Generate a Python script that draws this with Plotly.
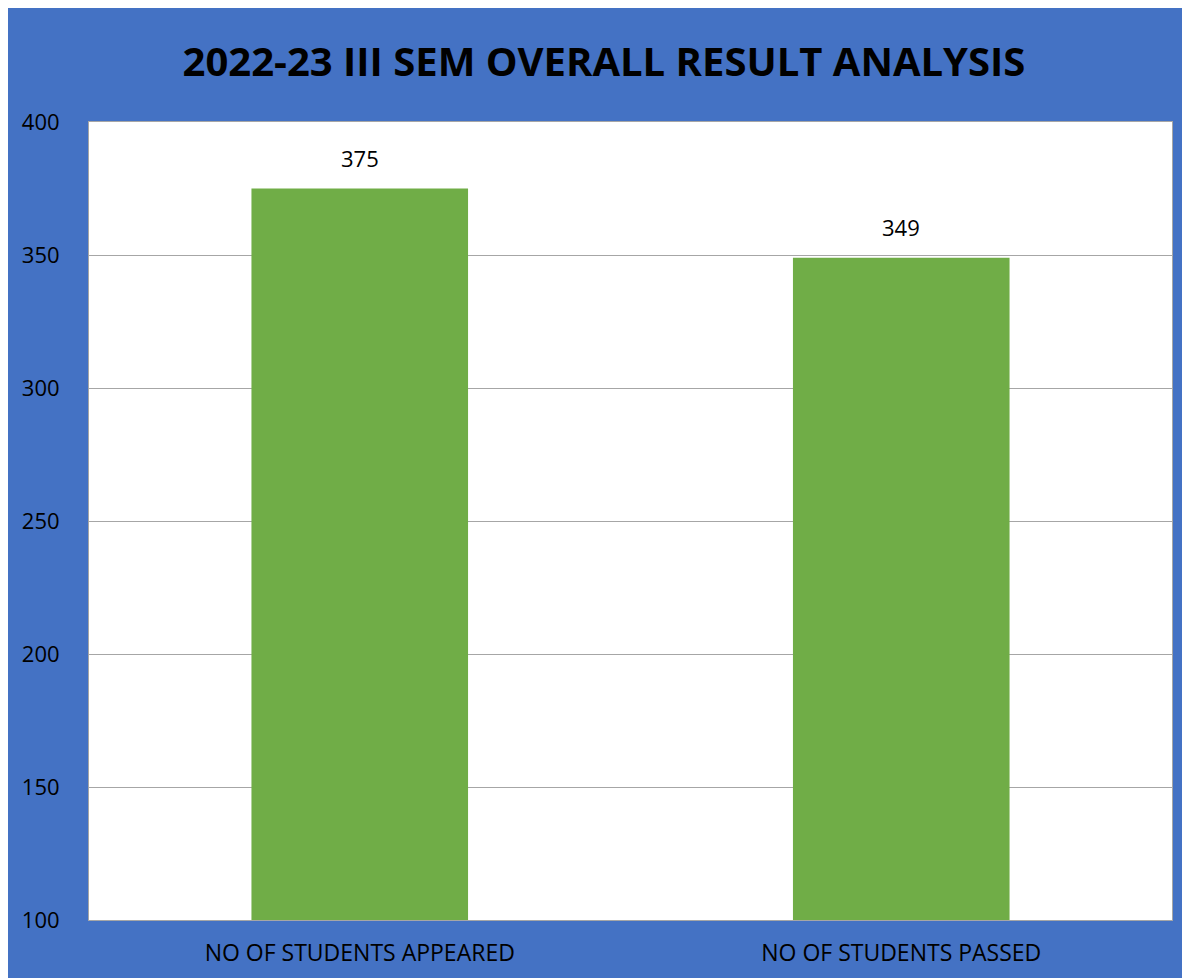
import plotly.graph_objects as go

categories = ["NO OF STUDENTS APPEARED", "NO OF STUDENTS PASSED"]
values = [375, 349]
y_ticks = [100, 150, 200, 250, 300, 350, 400]
title_text = "2022-23 III SEM OVERALL RESULT ANALYSIS"

# page body has an 8px margin, so the figure is drawn 8px in from the top-left
W, H = 1182, 970
L, R, T, B = 81, 18, 114, 58

fig = go.Figure()
fig.add_trace(go.Bar(
    x=categories, y=values,
    marker=dict(color="#70AD47", line=dict(width=0)),
    hoverinfo="x+y",
))

annotations = [
    dict(x=c, y=v, xref="x", yref="y", text=str(v), showarrow=False,
         yanchor="bottom", yshift=14,
         font=dict(size=22, color="#000000", family="Open Sans"))
    for c, v in zip(categories, values)
]

fig.update_layout(
    width=W, height=H,
    margin=dict(l=L, r=R, t=T, b=B, autoexpand=False),
    paper_bgcolor="#4472C4",
    plot_bgcolor="#FFFFFF",
    bargap=0.6,
    showlegend=False,
    annotations=annotations,
    title=dict(text="<b>" + title_text + "</b>", x=(604 - 8) / W, xref="container", xanchor="center",
               y=1 - (62 - 8) / H, yanchor="middle", yref="container",
               font=dict(size=40, color="#000000", family="Open Sans")),
)
fig.update_yaxes(range=[100, 400], tickvals=y_ticks, showgrid=True, gridcolor="#A6A6A6", gridwidth=1,
                 showline=True, linecolor="#A6A6A6", mirror=True, zeroline=False,
                 ticks="", ticklabelstandoff=24,
                 tickfont=dict(size=22, color="#000000", family="Open Sans"))
fig.update_xaxes(showline=True, linecolor="#A6A6A6", mirror=True, ticks="", ticklabelstandoff=12,
                 tickfont=dict(size=23, color="#000000", family="Open Sans"))

fig.write_html("out.html")
